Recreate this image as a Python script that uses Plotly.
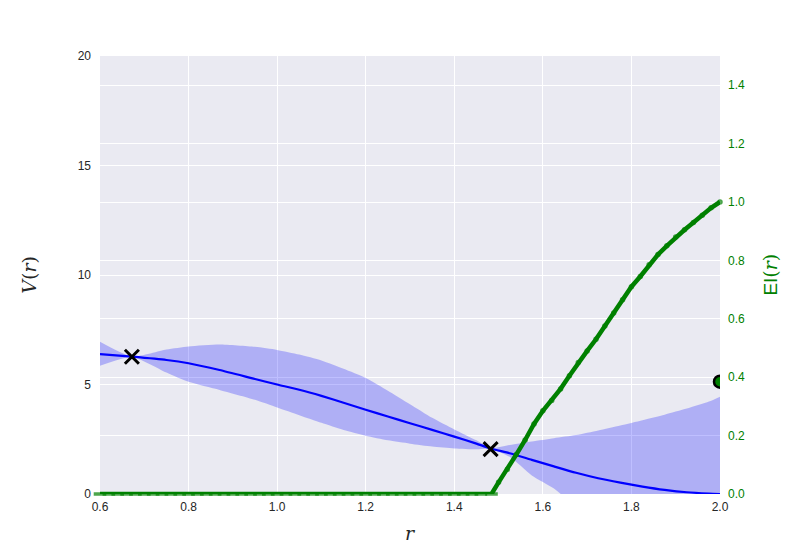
import plotly.graph_objects as go

# ---- data ----
r_grid = [0.60, 0.672, 0.75, 0.80, 0.87, 0.95, 1.00, 1.05, 1.10, 1.15, 1.20, 1.25, 1.30,
          1.35, 1.40, 1.45, 1.482, 1.525, 1.575, 1.625, 1.675, 1.725, 1.775, 1.825,
          1.875, 1.925, 1.975, 2.00]
v_mean = [6.39, 6.27, 6.12, 5.97, 5.66, 5.25, 5.00, 4.76, 4.48, 4.17, 3.85, 3.54, 3.23,
          2.93, 2.62, 2.30, 2.08, 1.86, 1.56, 1.26, 0.97, 0.72, 0.52, 0.34,
          0.19, 0.08, 0.02, 0.00]
v_upper = [6.95, 6.28, 6.60, 6.74, 6.83, 6.72, 6.58, 6.37, 6.10, 5.72, 5.30, 4.72, 4.10,
           3.48, 2.95, 2.45, 2.10, 2.24, 2.40, 2.55, 2.69, 2.90, 3.13, 3.37,
           3.62, 3.90, 4.22, 4.44]
v_lower = [5.86, 6.26, 5.55, 5.12, 4.75, 4.30, 3.95, 3.60, 3.25, 2.92, 2.66, 2.45, 2.30,
           2.17, 2.08, 2.04, 2.06, 1.70, 0.85, 0.25, -0.60, -1.40, -2.10, -2.70,
           -3.30, -3.75, -4.20, -4.40]

obs_r = [0.672, 1.482]
obs_v = [6.27, 2.05]

next_r = [2.0]
next_v = [5.13]

ei_r = [0.60, 0.62, 0.64, 0.66, 0.68, 0.70, 0.72, 0.74, 0.76, 0.78, 0.80, 0.82, 0.84, 0.86,
        0.88, 0.90, 0.92, 0.94, 0.96, 0.98, 1.00, 1.02, 1.04, 1.06, 1.08, 1.10, 1.12,
        1.14, 1.16, 1.18, 1.20, 1.22, 1.24, 1.26, 1.28, 1.30, 1.32, 1.34, 1.36, 1.38,
        1.40, 1.42, 1.44, 1.46, 1.484, 1.50, 1.52, 1.54, 1.56, 1.58, 1.60, 1.62, 1.64,
        1.66, 1.68, 1.70, 1.72, 1.74, 1.76, 1.78, 1.80, 1.82, 1.84, 1.86, 1.88, 1.90,
        1.92, 1.94, 1.96, 1.98, 2.00]
ei_v = [0, 0, 0, 0, 0, 0, 0, 0, 0, 0, 0, 0, 0, 0,
        0, 0, 0, 0, 0, 0, 0, 0, 0, 0, 0, 0, 0,
        0, 0, 0, 0, 0, 0, 0, 0, 0, 0, 0, 0, 0,
        0, 0, 0, 0, 0, 0.04, 0.085, 0.135, 0.185, 0.24, 0.285, 0.32, 0.36,
        0.405, 0.45, 0.49, 0.53, 0.575, 0.62, 0.665, 0.71, 0.745, 0.785, 0.82, 0.85, 0.88,
        0.905, 0.93, 0.955, 0.98, 1.00]

x_ticks = [0.6, 0.8, 1.0, 1.2, 1.4, 1.6, 1.8, 2.0]
y_ticks = [0, 5, 10, 15, 20]
y2_ticks = [0.0, 0.2, 0.4, 0.6, 0.8, 1.0, 1.2, 1.4]

# ---- figure ----
fig = go.Figure()

fig.add_trace(go.Scatter(x=r_grid, y=v_lower, mode="lines",
                         line=dict(width=0, shape="spline", smoothing=0.6),
                         hoverinfo="skip", showlegend=False))
fig.add_trace(go.Scatter(x=r_grid, y=v_upper, mode="lines",
                         line=dict(width=0, shape="spline", smoothing=0.6),
                         fill="tonexty", fillcolor="rgba(0,0,255,0.25)",
                         hoverinfo="skip", showlegend=False))
fig.add_trace(go.Scatter(x=r_grid, y=v_mean, mode="lines",
                         line=dict(color="#0000ff", width=2.2, shape="spline", smoothing=0.6),
                         showlegend=False))

ei_symbols = ["line-ew-open" if v == 0 else "circle" for v in ei_v]
ei_sizes = [9 if v == 0 else 2 for v in ei_v]
fig.add_trace(go.Scatter(x=ei_r, y=ei_v, yaxis="y2", mode="lines+markers",
                         line=dict(color="#008000", width=4.5),
                         marker=dict(color="#008000", size=ei_sizes, symbol=ei_symbols,
                                     line=dict(color="#008000", width=3.5)),
                         cliponaxis=False, showlegend=False))
fig.add_trace(go.Scatter(x=obs_r, y=obs_v, mode="markers",
                         marker=dict(symbol="x-thin", size=14, color="black",
                                     line=dict(color="black", width=3)),
                         cliponaxis=False, showlegend=False))
fig.add_trace(go.Scatter(x=next_r, y=next_v, mode="markers",
                         marker=dict(symbol="circle", size=12, color="#008000",
                                     line=dict(color="black", width=2.5)),
                         cliponaxis=True, showlegend=False))

tickfont = dict(family="Liberation Sans, Arial, sans-serif", size=12, color="#262626")

fig.update_layout(
    width=800, height=550,
    margin=dict(l=92, r=88, t=48, b=64),
    paper_bgcolor="white",
    plot_bgcolor="#EAEAF2",
    xaxis=dict(range=[0.6, 2.0], tickvals=x_ticks, ticktext=[f"{v:.1f}" for v in x_ticks],
               showgrid=True, gridcolor="white", gridwidth=1.2, zeroline=False,
               showline=False, ticks="", tickfont=tickfont, ticklabelstandoff=4),
    yaxis=dict(range=[0, 20], tickvals=y_ticks, showgrid=True, gridcolor="white",
               gridwidth=1.2, zeroline=False, showline=False, ticks="", tickfont=tickfont,
               ticklabelstandoff=8),
    yaxis2=dict(range=[0, 1.5], tickvals=y2_ticks, ticktext=[f"{v:.1f}" for v in y2_ticks],
                overlaying="y", side="right", showgrid=True, gridcolor="white",
                gridwidth=1.2, zeroline=False, showline=False, ticks="",
                ticklabelstandoff=7,
                tickfont=dict(family="Liberation Sans, Arial, sans-serif", size=12,
                              color="#008000")),
    annotations=[
        dict(text="<i>V</i>(<i>r</i>)", xref="paper", yref="paper", x=-0.115, y=0.5,
             textangle=-90, showarrow=False, xanchor="center", yanchor="middle",
             font=dict(family="DejaVu Serif, serif", size=19, color="#262626")),
        dict(text="<i>r</i>", xref="paper", yref="paper", x=0.5, y=-0.09,
             showarrow=False, xanchor="center", yanchor="middle",
             font=dict(family="DejaVu Serif, serif", size=19, color="#262626")),
        dict(text="<span style='font-family:Liberation Sans'>EI</span>(<i>r</i>)",
             xref="paper", yref="paper", x=1.08, y=0.5, textangle=-90, showarrow=False,
             xanchor="center", yanchor="middle",
             font=dict(family="DejaVu Serif, serif", size=19, color="#008000")),
    ],
)

fig.write_html("out.html")
